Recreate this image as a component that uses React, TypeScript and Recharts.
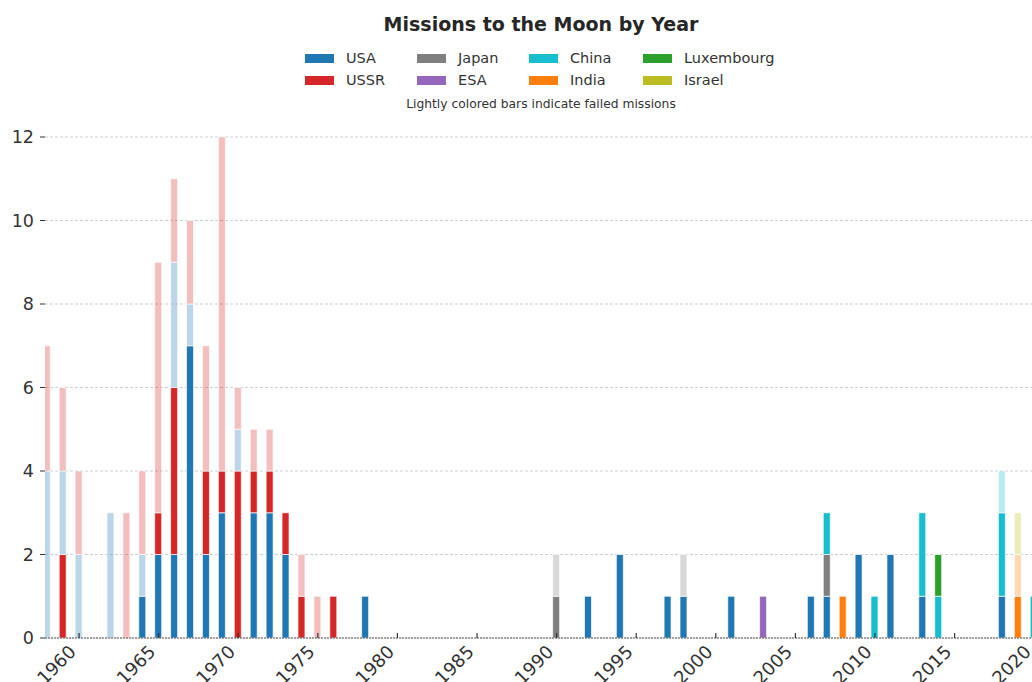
import { BarChart, Bar, XAxis, YAxis, CartesianGrid } from "recharts";

const firstYear = 1958;
const lastYear = 2021;

const countries = ["USA", "USSR", "Japan", "ESA", "China", "India", "Luxembourg", "Israel"];
const countryColors = ["#1f77b4", "#d62728", "#7f7f7f", "#9467bd", "#17becf", "#ff7f0e", "#2ca02c", "#bcbd22"];

// [year, missions]
const usaSuccess = [[1964, 1], [1965, 2], [1966, 2], [1967, 7], [1968, 2], [1969, 3], [1971, 3], [1972, 3], [1973, 2], [1978, 1], [1992, 1], [1994, 2], [1997, 1], [1998, 1], [2001, 1], [2006, 1], [2007, 1], [2009, 2], [2011, 2], [2013, 1], [2018, 1]];
const ussrSuccess = [[1959, 2], [1965, 1], [1966, 4], [1968, 2], [1969, 1], [1970, 4], [1971, 1], [1972, 1], [1973, 1], [1974, 1], [1976, 1]];
const japanSuccess = [[1990, 1], [2007, 1]];
const esaSuccess = [[2003, 1]];
const chinaSuccess = [[2007, 1], [2010, 1], [2013, 2], [2014, 1], [2018, 2], [2020, 1]];
const indiaSuccess = [[2008, 1], [2019, 1]];
const luxembourgSuccess = [[2014, 1]];
const israelSuccess: number[][] = [];

const usaFailed = [[1958, 4], [1959, 2], [1960, 2], [1962, 3], [1964, 1], [1966, 3], [1967, 1], [1970, 1]];
const ussrFailed = [[1958, 3], [1959, 2], [1960, 2], [1963, 3], [1964, 2], [1965, 6], [1966, 2], [1967, 2], [1968, 3], [1969, 8], [1970, 1], [1971, 1], [1972, 1], [1974, 1], [1975, 1]];
const japanFailed = [[1990, 1], [1998, 1]];
const esaFailed: number[][] = [];
const chinaFailed = [[2018, 1]];
const indiaFailed = [[2019, 1]];
const luxembourgFailed: number[][] = [];
const israelFailed = [[2019, 1]];

const successLists = [usaSuccess, ussrSuccess, japanSuccess, esaSuccess, chinaSuccess, indiaSuccess, luxembourgSuccess, israelSuccess];
const failedLists = [usaFailed, ussrFailed, japanFailed, esaFailed, chinaFailed, indiaFailed, luxembourgFailed, israelFailed];

const xTicks = [1960, 1965, 1970, 1975, 1980, 1985, 1990, 1995, 2000, 2005, 2010, 2015, 2020];
const yTicks = [0, 2, 4, 6, 8, 10, 12];

const data: Record<string, number>[] = [];
for (let year = firstYear; year <= lastYear; year++) {
  const row: Record<string, number> = { year };
  countries.forEach((c, i) => {
    const ok = successLists[i].find((d) => d[0] === year);
    const bad = failedLists[i].find((d) => d[0] === year);
    row[c + "_ok"] = ok ? ok[1] : 0;
    row[c + "_fail"] = bad ? bad[1] : 0;
  });
  data.push(row);
}

const font = "'DejaVu Sans', sans-serif";
const legendCols = [305, 417, 529, 643];
const legendRows = [58, 80];

const YearTick = (props: any) => {
  const { x, y, payload } = props;
  const tx = x - 2;
  const ty = y + 15;
  return (
    <g>
      <line x1={x} x2={x} y1={y - 5} y2={y} stroke="#333" strokeWidth={1.2} />
      <text x={tx} y={ty} textAnchor="end" transform={`rotate(-45, ${tx}, ${ty})`} fontSize={18} fill="#333" fontFamily={font}>
        {payload.value}
      </text>
    </g>
  );
};

const App = () => {
  return (
    <div style={{ position: "fixed", left: 0, top: 0, width: 1032, height: 682, overflow: "hidden", background: "#fff", fontFamily: font }}>
      <div style={{ position: "absolute", left: 0, width: 1082, top: 12, textAlign: "center", fontSize: 19, fontWeight: "bold", color: "#262626", lineHeight: "24px" }}>
        Missions to the Moon by Year
      </div>
      {countries.map((c, i) => (
        <div key={c} style={{ position: "absolute", left: legendCols[Math.floor(i / 2)], top: legendRows[i % 2] - 10, height: 20, display: "flex", alignItems: "center", fontSize: 14.5, color: "#333" }}>
          <span style={{ display: "inline-block", width: 29, height: 9, background: countryColors[i], marginRight: 12 }} />
          {c}
        </div>
      ))}
      <div style={{ position: "absolute", left: 0, width: 1082, top: 96, textAlign: "center", fontSize: 12.3, color: "#333", lineHeight: "16px" }}>
        Lightly colored bars indicate failed missions
      </div>
      <div style={{ position: "absolute", left: 0, top: 0 }}>
        <BarChart width={1066} height={682} data={data} margin={{ top: 137, right: 0, bottom: 0, left: 0 }} barSize={7}>
          <CartesianGrid vertical={false} stroke="#cfcfcf" strokeDasharray="3 2" />
          <XAxis
            type="number"
            dataKey="year"
            domain={[1957.86, 2022]}
            ticks={xTicks}
            interval={0}
            allowDataOverflow
            height={44}
            tickSize={0}
            tickMargin={0}
            tickLine={false}
            axisLine={{ stroke: "#555", strokeDasharray: "2 1" }}
            tick={<YearTick />}
          />
          <YAxis
            type="number"
            domain={[0, 12]}
            ticks={yTicks}
            width={45}
            axisLine={false}
            tickSize={5}
            tickMargin={6}
            tickLine={{ stroke: "#333" }}
            tick={{ fontSize: 17.5, fill: "#333", fontFamily: font }}
          />
          {countries.map((c, i) => (
            <Bar key={c + "_ok"} dataKey={c + "_ok"} stackId="a" fill={countryColors[i]} stroke="#fff" strokeWidth={0.7} isAnimationActive={false} />
          ))}
          {countries.map((c, i) => (
            <Bar key={c + "_fail"} dataKey={c + "_fail"} stackId="a" fill={countryColors[i]} fillOpacity={0.3} stroke="#fff" strokeWidth={0.7} isAnimationActive={false} />
          ))}
        </BarChart>
      </div>
    </div>
  );
};

export default App;
